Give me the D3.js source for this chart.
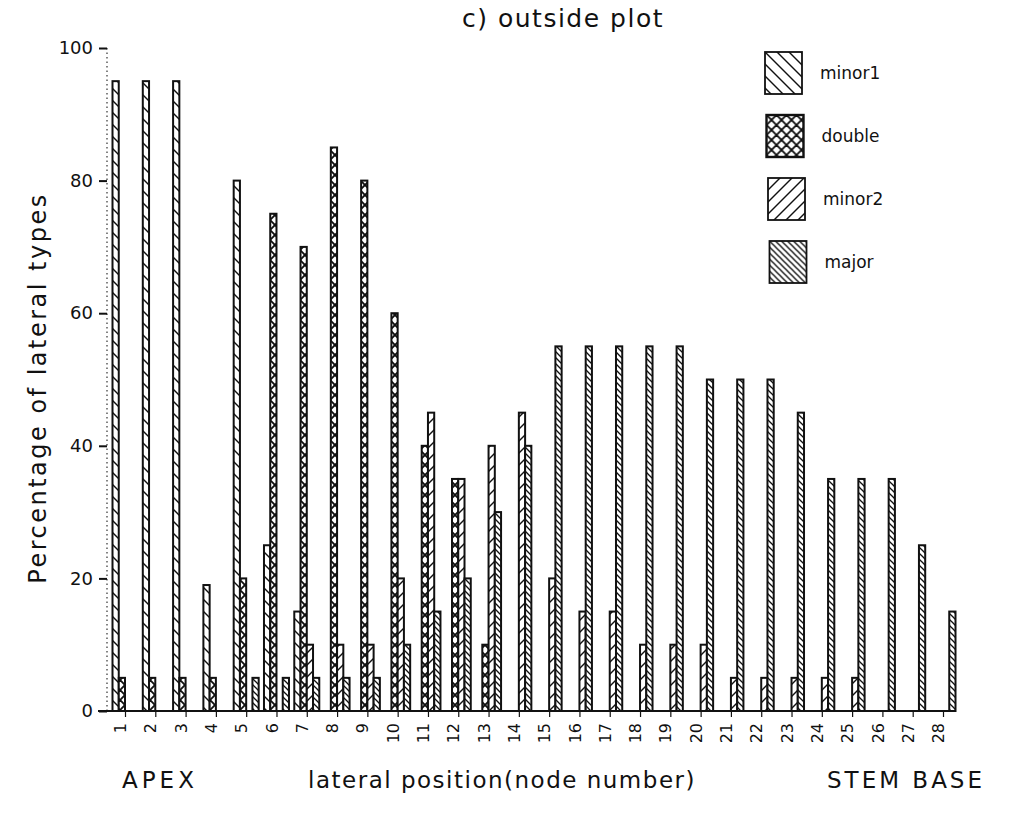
<!DOCTYPE html>
<html>
<head>
<meta charset="utf-8">
<script src="https://cdn.jsdelivr.net/npm/d3@7"></script>
<style>
  body { margin: 0; background: #fff; }
  svg text { font-family: "DejaVu Sans", "Liberation Sans", sans-serif; fill: #111; }
</style>
</head>
<body>
<svg id="chart" width="1012" height="815"></svg>
<script>
// node numbers, apex -> stem base
const nodes = d3.range(1, 29);
const seriesNames = ['minor1', 'double', 'minor2', 'major'];

const minor1 = [95, 95, 95, 19, 80, 25, 15, 0, 0, 0, 0, 0, 0, 0, 0, 0, 0, 0, 0, 0, 0, 0, 0, 0, 0, 0, 0, 0];
const double = [5, 5, 5, 5, 20, 75, 70, 85, 80, 60, 40, 35, 10, 0, 0, 0, 0, 0, 0, 0, 0, 0, 0, 0, 0, 0, 0, 0];
const minor2 = [0, 0, 0, 0, 0, 0, 10, 10, 10, 20, 45, 35, 40, 45, 20, 15, 15, 10, 10, 10, 5, 5, 5, 5, 5, 0, 0, 0];
const major  = [0, 0, 0, 0, 5, 5, 5, 5, 5, 10, 15, 20, 30, 40, 55, 55, 55, 55, 55, 50, 50, 50, 45, 35, 35, 35, 25, 15];

const yTicks = [0, 20, 40, 60, 80, 100];

const svg = d3.select('#chart');
const x0 = 125, y0 = 711;

const x = d3.scaleLinear().domain([1, 28]).range([x0, 943]);
const slot = d3.scaleBand().domain(seriesNames).range([-12.5, 12.5]);
const y = d3.scaleLinear().domain([0, 100]).range([y0, 48]);

// hatch patterns
const defs = svg.append('defs');
function hatch(id, size, paths, sw) {
    const p = defs.append('pattern')
        .attr('id', id)
        .attr('patternUnits', 'userSpaceOnUse')
        .attr('width', size)
        .attr('height', size);
    p.append('rect').attr('width', size).attr('height', size).attr('fill', '#fff');
    paths.forEach(d => p.append('path').attr('d', d).attr('stroke', '#111').attr('stroke-width', sw).attr('fill', 'none'));
}
hatch('p-minor1', 12, ['M-3,-3 L15,15', 'M-3,9 L3,15', 'M9,-3 L15,3'], 1.4);
hatch('p-double', 10, ['M-2,-2 L12,12', 'M-2,12 L12,-2', 'M-2,8 L2,12', 'M8,-2 L12,2', 'M-2,2 L2,-2', 'M8,12 L12,8'], 1.9);
hatch('p-minor2', 12, ['M-3,15 L15,-3', 'M-3,3 L3,-3', 'M9,15 L15,9'], 1.4);
hatch('p-major', 6, ['M-2,-2 L8,8', 'M-2,4 L2,8', 'M4,-2 L8,2'], 1.3);

const values = {minor1, double, minor2, major};

const groups = svg.append('g').attr('class', 'bars')
    .selectAll('g')
    .data(seriesNames)
    .join('g')
    .attr('fill', d => `url(#p-${d})`);

groups.selectAll('rect')
    .data(s => nodes.map((n, i) => ({s, n, v: values[s][i]})).filter(d => d.v > 0))
    .join('rect')
    .attr('x', d => x(d.n) + slot(d.s))
    .attr('y', d => y(d.v))
    .attr('width', slot.bandwidth())
    .attr('height', d => y(0) - y(d.v))
    .attr('stroke', '#111')
    .attr('stroke-width', 2);

// y axis (dotted line, ticks outward)
svg.append('line')
    .attr('x1', 107).attr('x2', 107)
    .attr('y1', y(100)).attr('y2', y(0))
    .attr('stroke', '#333').attr('stroke-width', 1.2)
    .attr('stroke-dasharray', '1.5,3');

const yAxis = svg.append('g')
    .attr('transform', 'translate(107,0)')
    .call(d3.axisLeft(y).tickValues(yTicks).tickSize(8).tickPadding(6));
yAxis.select('.domain').remove();
yAxis.selectAll('.tick line').attr('stroke', '#111').attr('stroke-width', 2);
yAxis.selectAll('.tick text')
    .attr('font-size', 18)
    .attr('font-family', '"DejaVu Sans", sans-serif')
    .attr('fill', '#222');

// x axis
svg.append('line')
    .attr('x1', 98).attr('x2', 955)
    .attr('y1', y0).attr('y2', y0)
    .attr('stroke', '#111').attr('stroke-width', 2.2);

const xAxis = svg.append('g')
    .attr('transform', `translate(0,${y0})`)
    .call(d3.axisBottom(x).tickValues(nodes).tickFormat(d3.format('d')).tickSize(6).tickPadding(4));
xAxis.select('.domain').remove();
xAxis.selectAll('.tick line').attr('stroke', '#111').attr('stroke-width', 1.2);
xAxis.selectAll('.tick text')
    .attr('font-size', 16)
    .attr('font-family', '"DejaVu Sans", sans-serif')
    .attr('fill', '#222')
    .attr('text-anchor', 'end')
    .attr('dy', '0.35em')
    .attr('transform', 'translate(-5,12) rotate(-90)')
    .attr('y', 0)
    .attr('x', 0);

// titles
svg.append('text')
    .attr('x', 563).attr('y', 27)
    .attr('text-anchor', 'middle')
    .attr('font-size', 25)
    .attr('letter-spacing', 1.5)
    .text('c) outside plot');

svg.append('text')
    .attr('transform', 'translate(46,388) rotate(-90)')
    .attr('text-anchor', 'middle')
    .attr('font-size', 24)
    .attr('letter-spacing', 2.5)
    .attr('fill', '#222')
    .text('Percentage of lateral types');

svg.append('text')
    .attr('x', 122).attr('y', 788)
    .attr('font-size', 23)
    .attr('letter-spacing', 4)
    .text('APEX');
svg.append('text')
    .attr('x', 502).attr('y', 788)
    .attr('text-anchor', 'middle')
    .attr('font-size', 23)
    .attr('letter-spacing', 1.5)
    .text('lateral position(node number)');
svg.append('text')
    .attr('x', 985).attr('y', 788)
    .attr('text-anchor', 'end')
    .attr('font-size', 23)
    .attr('letter-spacing', 3)
    .text('STEM BASE');

// legend
const ly = d3.scalePoint().domain(seriesNames).range([52, 241]);
const legend = svg.append('g').attr('class', 'legend')
    .selectAll('g')
    .data(seriesNames)
    .join('g')
    .attr('transform', (d, i) => `translate(${765 + i * 1.5},${ly(d)})`);
legend.append('rect')
    .attr('width', 37).attr('height', 42)
    .attr('fill', d => `url(#p-${d})`)
    .attr('stroke', '#111')
    .attr('stroke-width', d => d === 'double' ? 2.4 : 1.8);
legend.append('text')
    .attr('x', 55).attr('y', 27)
    .attr('font-size', 17)
    .text(d => d);
</script>
</body>
</html>
